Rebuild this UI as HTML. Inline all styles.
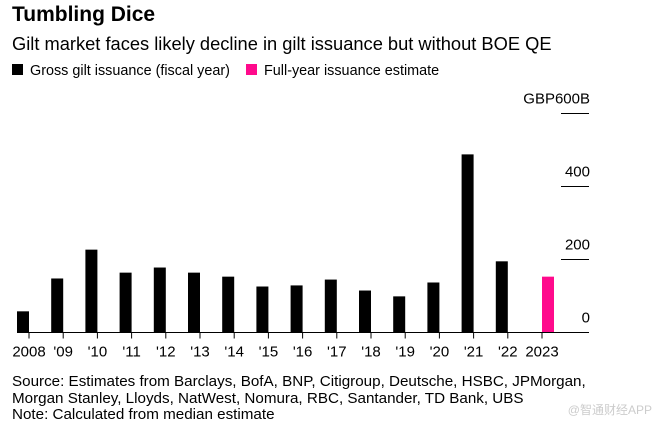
<!DOCTYPE html>
<html><head><meta charset="utf-8"><style>
body{margin:0;background:#fff;font-family:"Liberation Sans",sans-serif;}
#wrap{position:relative;width:664px;height:430px;overflow:hidden;}
</style></head><body>
<div id="wrap">
<svg id="chart" width="664" height="430" xmlns="http://www.w3.org/2000/svg" font-family="Liberation Sans, sans-serif">
<text x="12" y="21" font-size="21" font-weight="bold" fill="#000">Tumbling Dice</text>
<text x="12" y="50" font-size="18.3" fill="#000">Gilt market faces likely decline in gilt issuance but without BOE QE</text>
<rect x="12" y="64" width="11" height="11" fill="#000"/>
<text x="30" y="75" font-size="14.4" fill="#000">Gross gilt issuance (fiscal year)</text>
<rect x="246" y="64" width="11" height="11" fill="#ff0a8c"/>
<text x="264" y="75" font-size="14.4" fill="#000">Full-year issuance estimate</text>
<g id="grid"></g><g id="bars"></g><g id="xaxis"></g>
<text x="12" y="386" font-size="15.2" fill="#000">Source: Estimates from Barclays, BofA, BNP, Citigroup, Deutsche, HSBC, JPMorgan,</text>
<text x="12" y="403" font-size="15.2" fill="#000">Morgan Stanley, Lloyds, NatWest, Nomura, RBC, Santander, TD Bank, UBS</text>
<text x="12" y="419" font-size="15.2" fill="#000">Note: Calculated from median estimate</text>
<text x="652" y="414" font-size="12" fill="#ccc" text-anchor="end">@智通财经APP</text>
</svg>
</div>
<script>
const categories=["2008","'09","'10","'11","'12","'13","'14","'15","'16","'17","'18","'19","'20","'21","'22","2023"];
const values=[58,148,227,164,178,164,153,126,129,145,115,99,137,488,195,153];
const isEstimate=[0,0,0,0,0,0,0,0,0,0,0,0,0,0,0,1];
const yTicks=[0,200,400,600];
const yTickLabels=["0","200","400","GBP600B"];
const NS="http://www.w3.org/2000/svg";
const base=332.5, pxPer=73/200;
function y(v){return base-v*pxPer;}
function tickX(i){return 29+34.2*i;}
function mk(tag,attrs,parent,txt){const e=document.createElementNS(NS,tag);for(const k in attrs)e.setAttribute(k,attrs[k]);if(txt!==undefined)e.textContent=txt;document.getElementById(parent).appendChild(e);return e;}
yTicks.forEach((t,i)=>{
  if(t>0){const l=mk('line',{x1:561,x2:589,y1:y(t),y2:y(t),stroke:'#000','stroke-width':1},'grid');
  
  }
  const tx=mk('text',{x:590,y:y(t)-10,'font-size':15,'text-anchor':'end',fill:'#000'},'grid',yTickLabels[i]);
  
  
});
categories.forEach((c,i)=>{
  const tx=tickX(i);
  const bx=isEstimate[i]?tx:tx-12;
  const r=mk('rect',{x:bx,y:y(values[i]),width:12,height:values[i]*pxPer,fill:isEstimate[i]?'#ff0a8c':'#000'},'bars');
  
  
  const tk=mk('line',{x1:tx,x2:tx,y1:base,y2:base+6,stroke:'#000','stroke-width':1},'xaxis');
  
  
  const lb=mk('text',{x:tx,y:base+24,'font-size':15,'text-anchor':'middle',fill:'#000'},'xaxis',c);
  
  
});
const ax=mk('line',{x1:17,x2:589,y1:base,y2:base,stroke:'#000','stroke-width':1},'xaxis');


</script>
</body></html>
